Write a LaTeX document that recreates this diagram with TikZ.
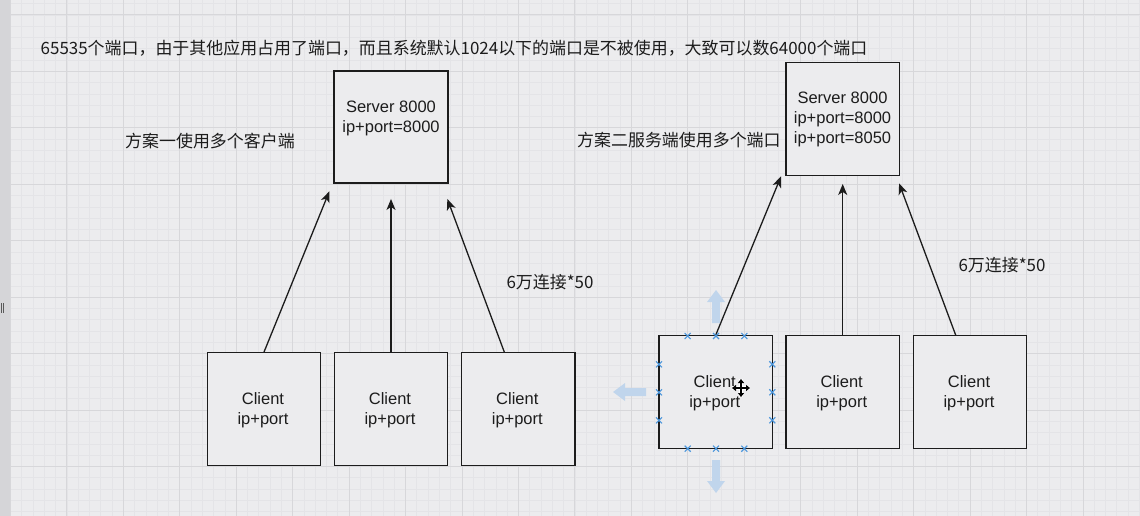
\documentclass[tikz,border=0pt]{standalone}
\usepackage{fontspec}
\setmainfont{Liberation Sans}
\newfontfamily\cjk{Noto Sans CJK SC}
\usetikzlibrary{arrows.meta,calc}
\definecolor{bg}{RGB}{236,236,238}
\definecolor{gmin}{RGB}{228,228,231}
\definecolor{gmaj}{RGB}{215,215,218}
\definecolor{stripc}{RGB}{213,213,216}
\definecolor{ink}{RGB}{28,28,28}
\definecolor{handle}{RGB}{75,150,220}
\definecolor{ghost}{RGB}{192,213,236}
\tikzset{
  box/.style={draw=ink, line width=1.3pt, fill=bg, inner sep=0pt, minimum width=113.5pt, minimum height=113pt},
  txt/.style={text=ink, font=\fontsize{16.5}{20}\selectfont, align=center, inner sep=0pt},
  ctxt/.style={text=ink, font=\cjk\fontsize{16.95}{20}\selectfont, inner sep=0pt},
  conn/.style={draw=ink, line width=1.3pt, -{Stealth[length=11pt, width=9pt, inset=3pt]}},
  handlemark/.style={draw=handle, line width=1.1pt},
  ghostarrow/.style={fill=ghost, draw=none}
}
\begin{document}
\begin{tikzpicture}[x=1pt, y=-1pt]
\useasboundingbox (0,0) rectangle (1140,516);
\clip (0,0) rectangle (1140,516);
\fill[bg] (0,0) rectangle (1140,516);
% grid
\foreach \k in {0,...,100} {\draw[gmin, line width=0.8pt] ({10.45+11.29*\k},0) -- ++(0,516);}
\foreach \k in {0,...,45} {\draw[gmin, line width=0.8pt] (0,{3.71+11.29*\k}) -- ++(1140,0);}
\foreach \k in {0,...,19} {\draw[gmaj, line width=1pt] ({10.45+56.45*\k},0) -- ++(0,516);}
\foreach \k in {0,...,8} {\draw[gmaj, line width=1pt] (0,{15+56.45*\k}) -- ++(1140,0);}
\fill[stripc] (0,0) rectangle (10,516);
\draw[gray!70!black, line width=0.9pt] (1,303) -- (1,313) (3.5,303) -- (3.5,313);

% texts
\node[ctxt, anchor=west] (title) at (40.5,48) {65535个端口，由于其他应用占用了端口，而且系统默认1024以下的端口是不被使用，大致可以数64000个端口};
\node[ctxt, anchor=west] (plan1) at (125,141.5) {方案一使用多个客户端};
\node[ctxt, anchor=west] (plan2) at (577,140) {方案二服务端使用多个端口};
\node[ctxt] (lab1) at (550,282) {6万连接*50};
\node[ctxt] (lab2) at (1002,265) {6万连接*50};

% left group
\node[box, minimum width=114pt, minimum height=112pt] (s1) at (391,127) {};
\node[txt] (s1t) at (391,118) {Server 8000\\ip+port=8000};
\node[box] (c1) at (264,409.2) {};
\node[box] (c2) at (391,409.2) {};
\node[box] (c3) at (518.3,409.2) {};
\foreach \c in {c1,c2,c3} {\node[txt] (\c t) at ($(\c)+(-1,1)$) {Client\\ip+port};}
\coordinate (e1) at ($(s1.south west)+(-4,7.7)$);
\coordinate (e2) at ($(s1.south)+(0,15.3)$);
\coordinate (e3) at ($(s1.south east)+(-1.3,15.3)$);
\coordinate (b3) at ($(c3.north)+(-14,0)$);
\draw[conn] (c1.north) -- (e1);
\draw[conn] (c2.north) -- (e2);
\draw[conn] (b3) -- (e3);

% right group
\node[box] (s2) at (842.7,118.8) {};
\node[txt] (s2t) at (842.5,119) {Server 8000\\ip+port=8000\\ip+port=8050};
\node[box] (d1) at (715.7,392.3) {};
\node[box] (d2) at (842.7,392.3) {};
\node[box] (d3) at (970,392.3) {};
\foreach \c in {d1,d2,d3} {\node[txt] (\c t) at ($(\c)+(-1,1)$) {Client\\ip+port};}
\coordinate (f1) at ($(s2.south west)+(-4.3,0.5)$);
\coordinate (f2) at ($(s2.south)+(0,8)$);
\coordinate (f3) at ($(s2.south east)+(-1,7.4)$);
\coordinate (g3) at ($(d3.north)+(-14.3,0)$);
\draw[conn] (d1.north) -- (f1);
\draw[conn] (d2.north) -- (f2);
\draw[conn] (g3) -- (f3);

% selection handles on d1
\foreach \x in {687.7,716,744.3} {
  \foreach \y in {336,448.7} {\draw[handlemark] (\x-3,\y-3) -- (\x+3,\y+3) (\x-3,\y+3) -- (\x+3,\y-3);}
}
\foreach \x in {659,772.3} {
  \foreach \y in {364.3,392.3,420.3} {\draw[handlemark] (\x-3,\y-3) -- (\x+3,\y+3) (\x-3,\y+3) -- (\x+3,\y-3);}
}
% ghost arrows
\fill[ghostarrow] (716,290) -- (725,302) -- (720,302) -- (720,323) -- (712,323) -- (712,302) -- (707,302) -- cycle;
\fill[ghostarrow] (716,493) -- (725,481) -- (720,481) -- (720,460) -- (712,460) -- (712,481) -- (707,481) -- cycle;
\fill[ghostarrow] (613,392) -- (625,383) -- (625,388) -- (646,388) -- (646,396) -- (625,396) -- (625,401) -- cycle;
% move cursor
\draw[white, line width=3.5pt] (732,388) -- (750,388) (741,379) -- (741,397);
\draw[black, line width=1.5pt, {Triangle[length=4pt,width=6pt]}-{Triangle[length=4pt,width=6pt]}] (732,388) -- (750,388);
\draw[black, line width=1.5pt, {Triangle[length=4pt,width=6pt]}-{Triangle[length=4pt,width=6pt]}] (741,379) -- (741,397);
\end{tikzpicture}
\end{document}
